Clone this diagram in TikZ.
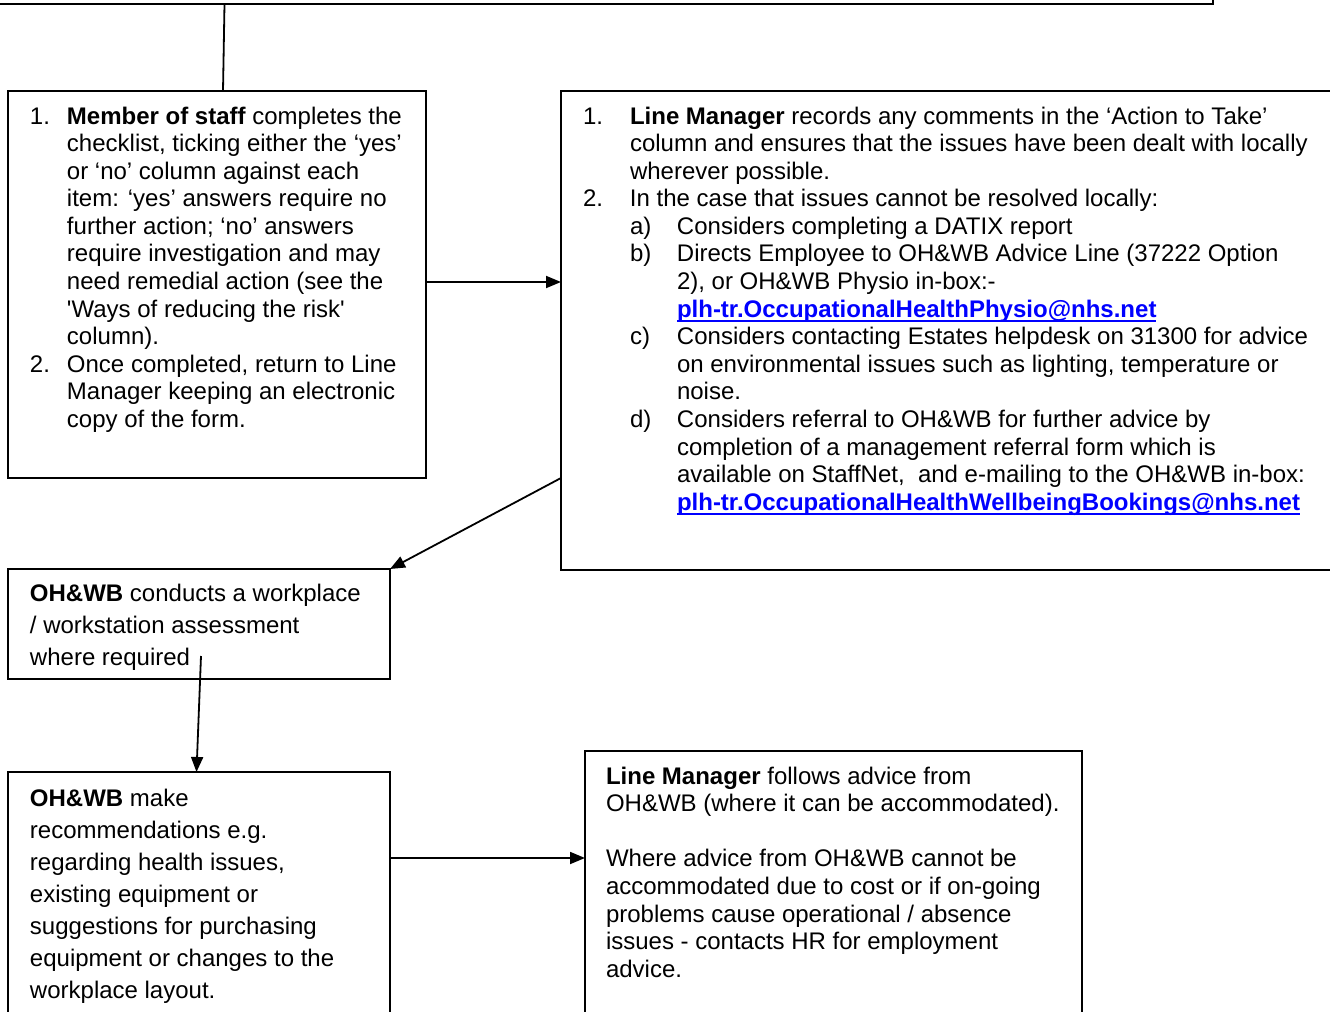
\documentclass[tikz,border=0pt]{standalone}
\usepackage{fontspec}
\setmainfont{Liberation Sans}
\usetikzlibrary{arrows.meta,calc}
\definecolor{linkblue}{RGB}{0,0,255}
\newcommand\ulink[1]{{\setbox0\hbox{{\bfseries\textcolor{linkblue}{#1}}}\rlap{\textcolor{linkblue}{\rule[-2.2pt]{\wd0}{0.9pt}}}\box0}}
\begin{document}
\begin{tikzpicture}[x=0.5pt,y=-0.5pt,
  box/.style={draw, line width=0.9pt, inner sep=0pt, outer sep=0pt, anchor=north west},
  txt/.style={inner sep=0pt, outer sep=0pt, anchor=base west, font=\fontsize{12pt}{13.8pt}\selectfont},
  txtw/.style={txt, font=\fontsize{12pt}{16pt}\selectfont},
  conn/.style={line width=0.9pt},
  arr/.style={line width=0.9pt, -{Triangle[length=7.5pt,width=6pt]}}]
\useasboundingbox (0,0) rectangle (1330,1012);
\clip (0,0) rectangle (1330,1012);
% boxes
\node[box, anchor=south east, minimum width=620pt, minimum height=30pt] (top) at (1213,4) {};
\node[box, minimum width=209pt, minimum height=193.5pt] (b1) at (8,91) {};
\node[box, minimum width=392pt, minimum height=239.5pt] (b2) at (561,91) {};
\node[box, minimum width=191pt, minimum height=55pt] (b3) at (8,569) {};
\node[box, minimum width=191pt, minimum height=130pt] (b4) at (8,772) {};
\node[box, minimum width=248.5pt, minimum height=140pt] (b5) at (585,751) {};
% texts
\node[txt] (t1) at (30,124) {\begin{tabular}[t]{@{}p{18.5pt}@{}l@{}}
1. & \textbf{Member of staff} completes the\\
 & checklist, ticking either the ‘yes’\\
 & or ‘no’ column against each\\
 & item: ‘yes’ answers require no\\
 & further action; ‘no’ answers\\
 & require investigation and may\\
 & need remedial action (see the\\
 & \textquotesingle Ways of reducing the risk\textquotesingle\\
 & column).\\
2. & Once completed, return to Line\\
 & Manager keeping an electronic\\
 & copy of the form.
\end{tabular}};
\node[txt] (t2) at (583,124) {\begin{tabular}[t]{@{}p{23.5pt}@{}p{23.5pt}@{}l@{}}
1. & \multicolumn{2}{@{}l@{}}{\textbf{Line Manager} records any comments in the ‘Action to Take’}\\
 & \multicolumn{2}{@{}l@{}}{column and ensures that the issues have been dealt with locally}\\
 & \multicolumn{2}{@{}l@{}}{wherever possible.}\\
2. & \multicolumn{2}{@{}l@{}}{In the case that issues cannot be resolved locally:}\\
 & a) & Considers completing a DATIX report\\
 & b) & Directs Employee to OH\&WB Advice Line (37222 Option\\
 & & 2), or OH\&WB Physio in-box:-\\
 & & \ulink{plh-tr.OccupationalHealthPhysio@nhs.net}\\
 & c) & Considers contacting Estates helpdesk on 31300 for advice\\
 & & on environmental issues such as lighting, temperature or\\
 & & noise.\\
 & d) & Considers referral to OH\&WB for further advice by\\
 & & completion of a management referral form which is\\
 & & available on StaffNet,~ and e-mailing to the OH\&WB in-box:\\
 & & \ulink{plh-tr.OccupationalHealthWellbeingBookings@nhs.net}
\end{tabular}};
\node[txtw] (t3) at (30,601) {\begin{tabular}[t]{@{}l@{}}
\textbf{OH\&WB} conducts a workplace\\
/ workstation assessment\\
where required
\end{tabular}};
\node[txtw] (t4) at (30,806) {\begin{tabular}[t]{@{}l@{}}
\textbf{OH\&WB} make\\
recommendations e.g.\\
regarding health issues,\\
existing equipment or\\
suggestions for purchasing\\
equipment or changes to the\\
workplace layout.
\end{tabular}};
\node[txt] (t5) at (606,784) {\begin{tabular}[t]{@{}l@{}}
\textbf{Line Manager} follows advice from\\
OH\&WB (where it can be accommodated).\\
~\\
Where advice from OH\&WB cannot be\\
accommodated due to cost or if on-going\\
problems cause operational / absence\\
issues - contacts HR for employment\\
advice.
\end{tabular}};
% connectors
\coordinate (a3s) at (201,656);
\draw[conn] ($(top.south east)+(-988.5,0)$) -- ($(b1.north west)+(215,0)$);
\draw[arr] ($(b1.north east)+(0,191)$) -- ($(b2.north west)+(0,191)$);
\draw[arr] ($(b2.north west)+(0,387)$) -- (b3.north east);
\draw[arr] (a3s) -- ($(b4.north west)+(188.5,0)$);
\draw[arr] ($(b4.north east)+(0,86)$) -- ($(b5.north west)+(0,107)$);
\end{tikzpicture}
\end{document}
